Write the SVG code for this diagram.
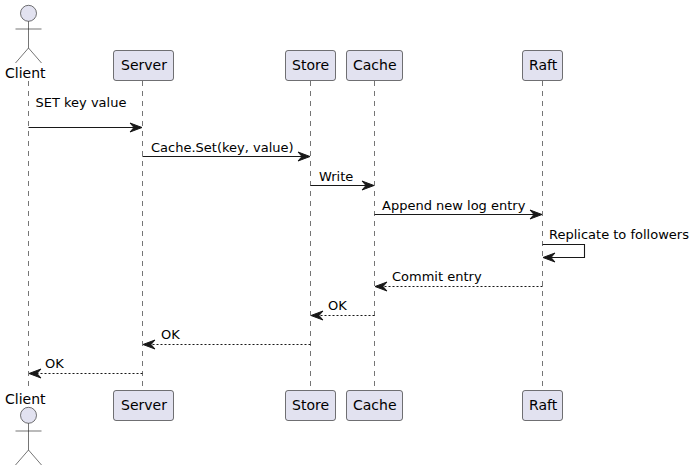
<svg xmlns="http://www.w3.org/2000/svg" width="695" height="471" viewBox="0 0 695 471">
<style>
text{font-family:"DejaVu Sans",sans-serif;font-size:13px;fill:#000}
.n{font-size:14px}
.box{fill:#E2E2F0;stroke:#181818;stroke-width:.6}
.act{fill:#E2E2F0;stroke:#181818;stroke-width:.6}
.lim{fill:none;stroke:#181818;stroke-width:.6}
.life{stroke:#181818;stroke-width:.6;stroke-dasharray:5,5;fill:none}
.m{stroke:#181818;stroke-width:1.1;fill:none}
.d{stroke-dasharray:2,2}
.h{fill:#181818;stroke:#181818;stroke-width:1}
</style>
<defs>
<g id="ar"><path class="h" d="M0,0 L-12,-4.500 L-8,0 L-12,4.500 Z"/></g>
<g id="al"><path class="h" d="M0,0 L12,-4.500 L8,0 L12,4.500 Z"/></g>
</defs>
<g id="lifelines">
<path class="life" d="M28.500,81V387"/><path class="life" d="M142.500,81V387"/><path class="life" d="M310.500,81V387"/><path class="life" d="M374.500,81V387"/><path class="life" d="M542.500,81V387"/>
</g>
<g id="Client">
<circle class="act" cx="28.500" cy="13.300" r="8"/><path class="lim" d="M28.500,21.300V48M15.500,29H41.500M28.500,48L15.500,63M28.500,48L41.500,63"/>
<text class="n" x="5" y="78">Client</text>
</g>
<g id="Client-bottom">
<text class="n" x="5" y="404">Client</text>
<circle class="act" cx="28.500" cy="415.300" r="8"/><path class="lim" d="M28.500,423.300V450M15.500,431H41.500M28.500,450L15.500,465M28.500,450L41.500,465"/>
</g>
<g id="Server"><rect class="box" x="113.500" y="50.500" width="60" height="30" rx="2.500"/><text class="n" x="121" y="70">Server</text></g>
<g id="Store"><rect class="box" x="285.500" y="50.500" width="50" height="30" rx="2.500"/><text class="n" x="292" y="70">Store</text></g>
<g id="Cache"><rect class="box" x="346.500" y="50.500" width="56" height="30" rx="2.500"/><text class="n" x="353" y="70">Cache</text></g>
<g id="Raft"><rect class="box" x="522.500" y="50.500" width="40" height="30" rx="2.500"/><text class="n" x="529" y="70">Raft</text></g>
<g id="Server-bottom"><rect class="box" x="113.500" y="390.500" width="60" height="30" rx="2.500"/><text class="n" x="121" y="410">Server</text></g>
<g id="Store-bottom"><rect class="box" x="285.500" y="390.500" width="50" height="30" rx="2.500"/><text class="n" x="292" y="410">Store</text></g>
<g id="Cache-bottom"><rect class="box" x="346.500" y="390.500" width="56" height="30" rx="2.500"/><text class="n" x="353" y="410">Cache</text></g>
<g id="Raft-bottom"><rect class="box" x="522.500" y="390.500" width="40" height="30" rx="2.500"/><text class="n" x="529" y="410">Raft</text></g>
<g id="connectors">
<path class="m" d="M28.500,127.500H136"/><use href="#ar" x="142" y="127.500"/>
<path class="m" d="M142.500,156.500H304"/><use href="#ar" x="310" y="156.500"/>
<path class="m" d="M310.500,185.500H368"/><use href="#ar" x="374" y="185.500"/>
<path class="m" d="M374.500,214.500H536"/><use href="#ar" x="542" y="214.500"/>
<path class="m" d="M542.500,244.500H584.500V257.500H550"/><use href="#al" x="543" y="257.500"/>
<path class="m d" d="M542.500,286.500H382"/><use href="#al" x="375" y="286.500"/>
<path class="m d" d="M374.500,315.500H318"/><use href="#al" x="311" y="315.500"/>
<path class="m d" d="M310.500,344.500H150"/><use href="#al" x="143" y="344.500"/>
<path class="m d" d="M142.500,373.500H36"/><use href="#al" x="29" y="373.500"/>
</g>
<g id="labels">
<text x="35.500" y="107">SET key value</text>
<text x="151" y="152">Cache.Set(key, value)</text>
<text x="319" y="181">Write</text>
<text x="382" y="210">Append new log entry</text>
<text x="549" y="239">Replicate to followers</text>
<text x="392" y="281">Commit entry</text>
<text x="328" y="310">OK</text>
<text x="161" y="339">OK</text>
<text x="45" y="368">OK</text>
</g>
</svg>
